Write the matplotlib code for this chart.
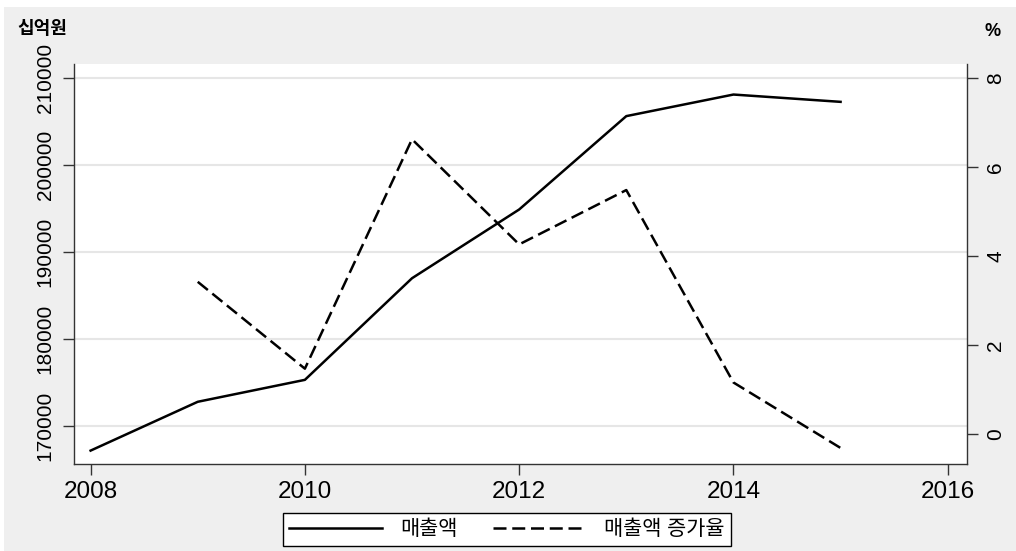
import matplotlib

matplotlib.use("Agg")
import matplotlib.pyplot as plt
from matplotlib.patches import Rectangle

plt.rcParams["font.family"] = ["Liberation Sans", "Noto Sans CJK KR", "DejaVu Sans"]

# ---- data ----------------------------------------------------------------- #
years = [2008, 2009, 2010, 2011, 2012, 2013, 2014, 2015]
sales = [167170, 172780, 175300, 186980, 194880, 205610, 208090, 207250]
growth_years = [2009, 2010, 2011, 2012, 2013, 2014, 2015]
growth = [3.42, 1.47, 6.62, 4.26, 5.48, 1.16, -0.31]

left_ticks = [170000, 180000, 190000, 200000, 210000]
right_ticks = [0, 2, 4, 6, 8]
x_ticks = [2008, 2010, 2012, 2014, 2016]

SPINE = "#333333"
PANEL = "#efefef"

fig = plt.figure(figsize=(10.16, 5.51), dpi=100, facecolor="white")
fig.patches.append(Rectangle((4 / 1016, 0), 1, 1 - 7 / 551, transform=fig.transFigure,
                             facecolor=PANEL, edgecolor="none", zorder=-10))

ax = fig.add_axes([74 / 1016, 1 - 464 / 551, (967 - 74) / 1016, (464 - 64) / 551])
ax.set_facecolor("white")
ax2 = ax.twinx()

l1, = ax.plot(years, sales, color="black", lw=1.8, zorder=3)
l2, = ax2.plot(growth_years, growth, color="black", lw=1.8, dashes=(5.2, 2.3))

ax.set_xlim(2007.845, 2016.18)
ax.set_ylim(165630, 211600)
ax2.set_ylim(-0.67, 8.31)

ax.set_xticks(x_ticks)
ax.set_yticks(left_ticks)
ax2.set_yticks(right_ticks)
ax.yaxis.grid(True, color="#e6e6e6", lw=1.5)
ax.set_axisbelow(True)

for a in (ax, ax2):
    a.spines["top"].set_visible(False)
    for s in a.spines.values():
        s.set_color(SPINE)
        s.set_linewidth(1.0)
    a.tick_params(direction="out", length=8, width=1.0, color=SPINE,
                  labelsize=15, labelcolor="black", pad=6)
ax.spines["right"].set_visible(False)
ax2.spines["left"].set_visible(False)
ax2.spines["bottom"].set_visible(False)
ax.tick_params(axis="x", labelsize=17.5, pad=4)

for t in ax.get_yticklabels():
    t.set_rotation(90)
    t.set_va("center")
for t in ax2.get_yticklabels():
    t.set_rotation(90)
    t.set_va("center")

fig.text(17 / 1016, 1 - 30 / 551, "십억원", fontsize=13, fontweight="bold", va="center")
fig.text(993 / 1016, 1 - 32 / 551, "%", fontsize=13, fontweight="bold", va="center", ha="center")

leg = fig.legend([l1, l2], ["매출액", "매출액 증가율"], loc="center",
                 bbox_to_anchor=(507 / 1016, 1 - 529.5 / 551), ncol=2, frameon=True,
                 fancybox=False, edgecolor="black", facecolor="white", framealpha=1,
                 fontsize=15, handlelength=4.47, handletextpad=0.87, columnspacing=1.7,
                 borderpad=0.3)
leg.get_frame().set_linewidth(1.0)

fig.savefig("out.png", dpi=100, facecolor=fig.get_facecolor())
